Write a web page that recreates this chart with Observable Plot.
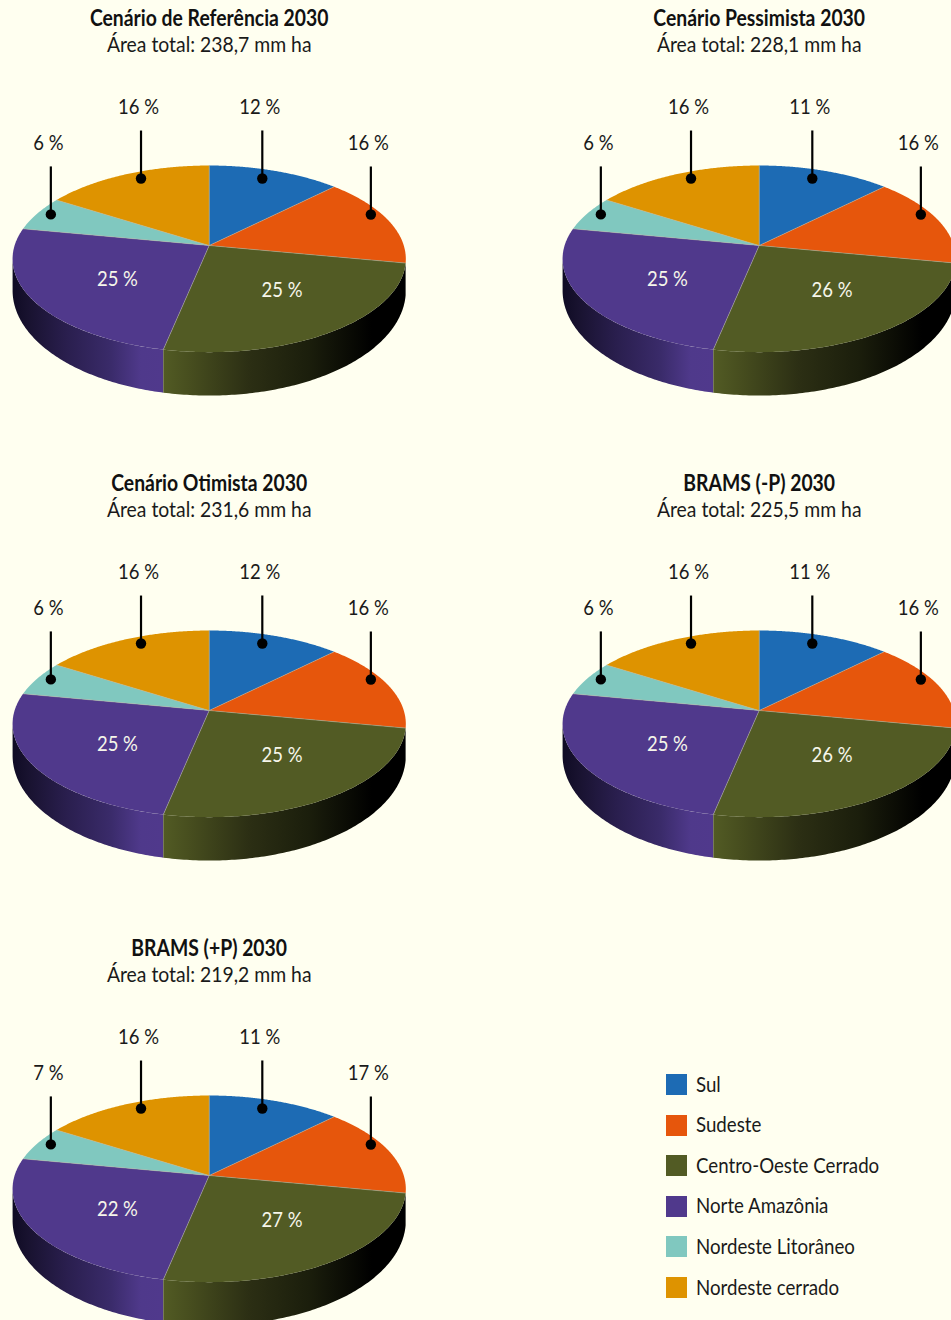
<!DOCTYPE html>
<html lang="pt">
<head>
<meta charset="utf-8">
<script src="https://cdn.jsdelivr.net/npm/d3@7"></script>
<script src="https://cdn.jsdelivr.net/npm/@observablehq/plot@0.6"></script>
<style>
  html, body { margin: 0; padding: 0; background: #FFFFF0; overflow: hidden; }
  #page { display: grid; grid-template-columns: 550px 401px; grid-template-rows: 465px 465px 390px; width: 951px; height: 1320px; font-family: Lato, sans-serif; color: #1a1a1a; }
  #legend { position: relative; }
  .row { position: absolute; left: 116px; display: flex; align-items: center; height: 21px; font-size: 21px; white-space: nowrap; }
  .row span:last-child { position: relative; top: -1.5px; display: inline-block; transform: scaleX(0.89); transform-origin: left center; }
  .sw { width: 21px; height: 21px; margin-right: 9px; flex: none; }
</style>
</head>
<body>
<div id="page"></div>
<script>
const regions = ["Sul", "Sudeste", "Centro-Oeste Cerrado", "Norte Amazônia", "Nordeste Litorâneo", "Nordeste cerrado"];
const regionColors = ["#1D6BB4", "#E6560C", "#525B24", "#50398C", "#80C8BF", "#DE9300"];

// Slice sizes as drawn: the reference repeats one pie shape in every panel.
const drawnShares = [12.5, 15.5, 25.25, 24.75, 6, 16];

const scenarioTitles = ["Cenário de Referência 2030", "Cenário Pessimista 2030", "Cenário Otimista 2030", "BRAMS (-P) 2030", "BRAMS (+P) 2030"];
const scenarioAreas = ["238,7", "228,1", "231,6", "225,5", "219,2"];
const labelsReferencia = [12, 16, 25, 25, 6, 16];
const labelsPessimista = [11, 16, 26, 25, 6, 16];
const labelsOtimista = [12, 16, 25, 25, 6, 16];
const labelsBramsMenos = [11, 16, 26, 25, 6, 16];
const labelsBramsMais = [11, 17, 27, 22, 7, 16];
const scenarioLabels = [labelsReferencia, labelsPessimista, labelsOtimista, labelsBramsMenos, labelsBramsMais];

// Where each label sits on the pie: percent of the way round and share of the radius.
const labelTurn = [5.67, 18.83, 39.5, 64.6, 81.3, 92.9];
const labelReach = [0.874, 0.943, 0.571, 0.565, 0.927, 0.907];
const labelOutside = [true, true, false, false, true, true];

// Pie seen in perspective, in pie-centred units.
const halfWidth = 194.6, topDepth = 91.4, baseDepth = 102.9, baseDrop = 30, tilt = 1 / 7;
function project(percent, reach = 1, depth = topDepth, drop = 0) {
  const a = percent / 100 * 2 * Math.PI;
  const w = 1 + tilt * reach * Math.cos(a);
  return { x: halfWidth * reach * Math.sin(a) / w, y: depth * reach * Math.cos(a) / w - drop };
}
const cumulative = d3.cumsum(drawnShares);
const starts = [0, ...cumulative.slice(0, -1)];
const steps = d3.range(0, 121).map(i => i / 120);
const rim = (from, to) => steps.map(t => project(from + (to - from) * t));
const baseRim = (from, to) => steps.map(t => project(from + (to - from) * t, 1, baseDepth, baseDrop));

const slices = regions.map((r, i) => [{ x: 0, y: 0 }, ...rim(starts[i], cumulative[i])]);
const wall = (from, to) => [...rim(from, to), ...baseRim(from, to).reverse()];
// The visible side stops where the rim turns back, at its left-most point.
const leftTurn = 100 * (1 - Math.acos(-tilt) / (2 * Math.PI));
const spokes = starts.map(s => project(s));

function defs() {
  const d = d3.create("svg:defs");
  const add = (id, stops) => {
    const g = d.append("linearGradient").attr("id", id);
    stops.forEach(([o, c]) => g.append("stop").attr("offset", o).attr("stop-color", c));
  };
  add("wallNorte", [[0, "#0f0b24"], [0.1, "#18122f"], [0.35, "#291e4d"], [0.65, "#3a2b6a"], [0.85, "#4f398b"], [1, "#50398c"]]);
  add("wallCentro", [[0, "#525b24"], [0.1, "#484f1f"], [0.35, "#2c2f14"], [0.6, "#1b1e0c"], [0.86, "#000000"], [1, "#000000"]]);
  return d.node();
}

const panelSlots = [[0, 0, 420], [1, 0, 401], [0, 1, 420], [1, 1, 401], [0, 2, 420]];
const rowHeights = [465, 465, 390];
const pieLeft = 208.7, pieTop = 245;
const textNarrowing = 0.88;

const page = document.getElementById("page");
scenarioTitles.forEach((title, s) => {
  const [col, row, w] = panelSlots[s];
  const h = rowHeights[row];
  const labels = scenarioLabels[s].map((v, i) => ({ ...project(labelTurn[i], labelReach[i]), text: `${v} %`, outside: labelOutside[i] }));
  const outside = labels.filter(d => d.outside);
  const inside = labels.filter(d => !d.outside);
  const plot = Plot.plot({
    width: w, height: h, margin: 0,
    style: { background: "transparent", fontFamily: "Lato, sans-serif", overflow: "hidden" },
    x: { axis: null, domain: [-pieLeft, w - pieLeft], range: [0, w] },
    y: { axis: null, domain: [pieTop, pieTop - h], range: [0, h] },
    marks: [
      defs,
      Plot.line(wall(starts[3], leftTurn), { x: "x", y: "y", fill: "url(#wallNorte)", stroke: "none" }),
      Plot.line(wall(starts[2], cumulative[2]), { x: "x", y: "y", fill: "url(#wallCentro)", stroke: "none" }),
      ...slices.map((pts, i) => Plot.line(pts, { x: "x", y: "y", fill: regionColors[i], stroke: "none" })),
      Plot.link(spokes, { x1: () => 0, y1: () => 0, x2: "x", y2: "y", stroke: "#b5b5a0", strokeWidth: 0.5 }),
      Plot.link(outside, { x1: "x", x2: "x", y1: "y", y2: d => d.y + 48, stroke: "black", strokeWidth: 2.2 }),
      Plot.dot(outside, { x: "x", y: "y", r: 5.2, fill: "black" }),
      Plot.text(outside, { x: "x", y: "y", text: "text", dx: -2.5, dy: -71.5, fontSize: 21, fill: "#1a1a1a" }),
      Plot.text(inside, { x: "x", y: "y", text: "text", dy: 0.5, fontSize: 21, fill: "#f6f6ea" }),
      Plot.text([title], { x: () => 0, frameAnchor: "top", lineAnchor: "middle", dy: 18, text: d => d, fontSize: 22, fontWeight: 700, fill: "#111" }),
      Plot.text([`Área total: ${scenarioAreas[s]} mm ha`], { x: () => 0, frameAnchor: "top", lineAnchor: "middle", dy: 44.5, text: d => d, fontSize: 22, fill: "#1a1a1a" })
    ]
  });
  plot.style.gridColumn = col + 1;
  plot.style.gridRow = row + 1;
  page.appendChild(plot);
  // The installed fonts are wider than the reference's: squeeze the glyphs to match.
  plot.querySelectorAll("text").forEach(t => {
    t.setAttribute("textLength", t.getComputedTextLength() * textNarrowing);
    t.setAttribute("lengthAdjust", "spacingAndGlyphs");
  });
});

const legend = document.createElement("div");
legend.id = "legend";
legend.style.gridColumn = 2;
legend.style.gridRow = 3;
regions.forEach((r, i) => {
  const row = document.createElement("div");
  row.className = "row";
  row.style.top = (144 + i * 40.6) + "px";
  row.innerHTML = `<span class="sw" style="background:${regionColors[i]}"></span><span>${r}</span>`;
  legend.appendChild(row);
});
page.appendChild(legend);
</script>
</body>
</html>
